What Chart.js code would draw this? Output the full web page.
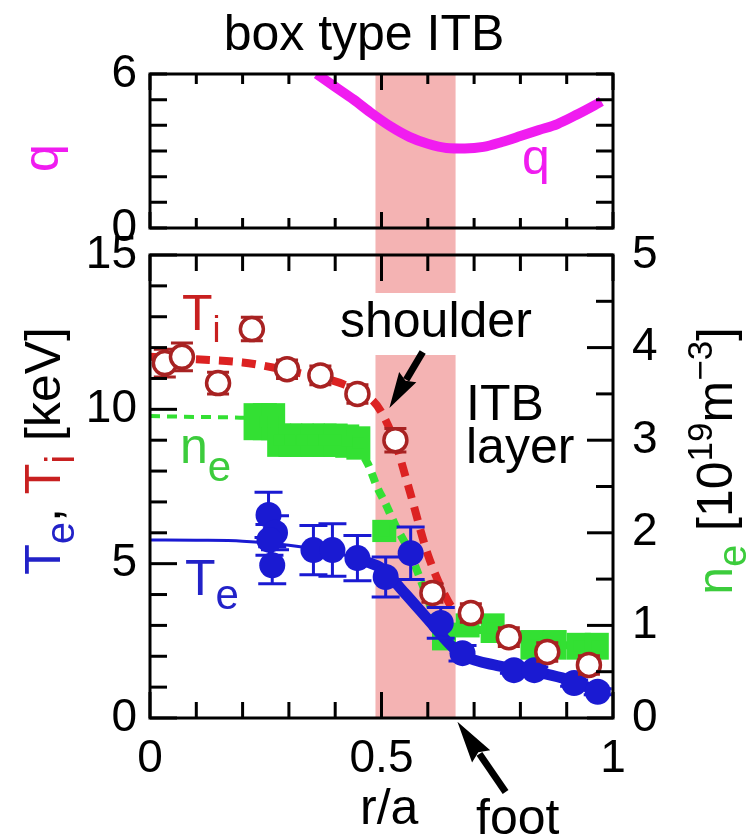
<!DOCTYPE html>
<html>
<head>
<meta charset="utf-8">
<title>box type ITB</title>
<script src="https://cdn.jsdelivr.net/npm/chart.js@4.4.1/dist/chart.umd.min.js"></script>
<style>
  html, body { margin:0; padding:0; background:#ffffff; }
  #wrap { position:relative; width:747px; height:840px; overflow:hidden; background:#fff; }
  #wrap canvas { position:absolute; left:0; top:0; }
</style>
</head>
<body>
<div id="wrap">
  <canvas id="cBottom" width="747" height="840"></canvas>
  <canvas id="cTop" width="747" height="840"></canvas>
</div>
<script>
// ---------------- data ----------------
// safety factor q(r/a)
const qR    = [0.36, 0.40, 0.44, 0.48, 0.52, 0.56, 0.60, 0.64, 0.68, 0.72, 0.76, 0.80, 0.84, 0.88, 0.92, 0.96, 0.975];
const qVal  = [6.0, 5.5, 5.0, 4.45, 3.95, 3.55, 3.28, 3.12, 3.1, 3.16, 3.35, 3.58, 3.82, 4.05, 4.4, 4.78, 4.93];

// ion temperature Ti [keV] (open circles) and its fit (dashed)
const tiR    = [0.032, 0.069, 0.147, 0.220, 0.296, 0.368, 0.448, 0.530, 0.610, 0.693, 0.775, 0.858, 0.948];
const tiVal  = [11.5, 11.7, 10.85, 12.6, 11.3, 11.1, 10.5, 9.0, 4.05, 3.4, 2.62, 2.14, 1.72];
const tiErr  = [0.45, 0.45, 0.35, 0.38, 0.3, 0.3, 0.3, 0.38, 0.3, 0.3, 0.3, 0.3, 0.3];
const tiFitR   = [0, 0.1, 0.2, 0.25, 0.33, 0.42, 0.48, 0.5, 0.53, 0.56, 0.6, 0.645, 0.66];
const tiFitVal = [11.7, 11.62, 11.52, 11.4, 11.15, 10.8, 10.3, 9.9, 8.9, 7.4, 5.3, 3.75, 3.45];

// electron temperature Te [keV] (filled circles) and its fit (solid)
const teR    = [0.256, 0.270, 0.258, 0.264, 0.353, 0.394, 0.448, 0.509, 0.563, 0.628, 0.675, 0.786, 0.830, 0.916, 0.967];
const teVal  = [6.58, 6.0, 5.77, 4.95, 5.44, 5.44, 5.18, 4.57, 5.34, 3.08, 2.1, 1.55, 1.55, 1.13, 0.85];
const teErr  = [0.73, 0.55, 0.5, 0.6, 0.8, 0.85, 0.73, 0.65, 0.85, 0.5, 0.25, 0.1, 0.1, 0.1, 0.1];
const teFitR   = [0, 0.1, 0.2, 0.3, 0.4, 0.47, 0.5, 0.55, 0.6, 0.65, 0.68, 0.75, 0.83, 0.89, 0.945, 0.975];
const teFitVal = [5.77, 5.76, 5.73, 5.6, 5.35, 5.05, 4.85, 4.05, 3.2, 2.35, 2.0, 1.7, 1.5, 1.3, 1.0, 0.8];

// electron density ne [10^19 m^-3] (squares with error boxes) and its fit (dashed)
const neR    = [0.228, 0.248, 0.266, 0.279, 0.303, 0.328, 0.352, 0.377, 0.401, 0.426, 0.450, 0.506, 0.635, 0.686, 0.740, 0.826, 0.874, 0.926, 0.965];
const neVal  = [3.2, 3.2, 3.2, 3.0, 3.0, 3.0, 3.0, 3.0, 3.0, 2.99, 2.97, 2.02, 0.88, 1.0, 0.97, 0.79, 0.79, 0.775, 0.775];
const neErr  = [0.2, 0.2, 0.2, 0.18, 0.18, 0.18, 0.18, 0.18, 0.18, 0.18, 0.18, 0.12, 0.15, 0.13, 0.16, 0.16, 0.16, 0.145, 0.145];
const neFitR   = [0, 0.12, 0.24, 0.35, 0.44, 0.47, 0.49, 0.51, 0.53, 0.56, 0.59, 0.62, 0.66, 0.75, 0.85, 0.97];
const neFitVal = [3.26, 3.25, 3.23, 3.05, 2.95, 2.75, 2.5, 2.3, 2.08, 1.8, 1.42, 1.05, 0.95, 0.95, 0.8, 0.78];

// ITB layer (shaded band), r/a
const itbBand = [0.487, 0.66];

// tick labels
const xTickVals   = [0, 0.5, 1];
const keVTickVals = [0, 5, 10, 15];
const neTickVals  = [0, 1, 2, 3, 4, 5];
const qTickVals   = [0, 6];

// annotation arrows in data units (r/a, keV)
const shoulderArrow = { from: [0.589, 11.86], to: [0.517, 10.04] };
const footArrow     = { from: [0.768, -2.4],  to: [0.664, -0.12] };

// ---------------- styling ----------------
const FONT = '"Liberation Sans", Arial, Helvetica, sans-serif';
const COL = {
  te: '#1a1ad2', teText: '#2222c8',
  ti: '#a82222', tiFit: '#dc2222', tiText: '#c82020',
  ne: '#33e033', neText: '#3ccc3c',
  q: '#f01cf0', pink: '#f4b3b3'
};
const TOP_AREA = { top: 74, bottom: 228 };
const BOT_AREA = { top: 255, bottom: 718 };
const LEFT_W = 150, RIGHT_W = 134, W = 747, H = 840;

const pts = (xs, ys) => xs.map((x, i) => ({ x: x, y: ys[i] }));
const fixedTicks = vals => s => { s.ticks = vals.map(v => ({ value: v })); };
const fmt = v => String(v);

function seg(t, c, size, dy) { return { t: t, c: c, size: size || 50, dy: dy || 0 }; }
function richText(ctx, segs, x, y, align, rot) {
  ctx.save();
  ctx.translate(x, y);
  if (rot) ctx.rotate(rot);
  ctx.textAlign = 'left';
  ctx.textBaseline = 'alphabetic';
  let total = 0;
  segs.forEach(s => { ctx.font = s.size + 'px ' + FONT; s.w = ctx.measureText(s.t).width; total += s.w; });
  let cx = align === 'right' ? -total : (align === 'center' ? -total / 2 : 0);
  segs.forEach(s => { ctx.font = s.size + 'px ' + FONT; ctx.fillStyle = s.c; ctx.fillText(s.t, cx, s.dy); cx += s.w; });
  ctx.restore();
}
function arrow(ctx, x0, y0, x1, y1, shaftW, headL, headW) {
  const ang = Math.atan2(y1 - y0, x1 - x0);
  const len = Math.hypot(x1 - x0, y1 - y0);
  ctx.save();
  ctx.translate(x0, y0);
  ctx.rotate(ang);
  ctx.fillStyle = '#000';
  ctx.fillRect(0, -shaftW / 2, len - headL + 3, shaftW);
  ctx.beginPath();
  ctx.moveTo(len, 0);
  ctx.lineTo(len - headL, -headW / 2);
  ctx.lineTo(len - headL * 0.88, 0);
  ctx.lineTo(len - headL, headW / 2);
  ctx.closePath();
  ctx.fill();
  ctx.restore();
}

// ---------------- plugins ----------------
const framePlugin = {
  id: 'frame',
  afterDraw(chart, args, opts) {
    const ctx = chart.ctx, a = chart.chartArea;
    ctx.save();
    ctx.strokeStyle = '#000';
    ctx.lineWidth = 3;
    ctx.lineCap = 'square';
    ctx.strokeRect(a.left, a.top, a.right - a.left, a.bottom - a.top);
    ctx.lineCap = 'butt';
    (opts.ticks || []).forEach(t => {
      const s = chart.scales[t.axis];
      const n = Math.round((s.max - s.min) / t.step);
      for (let k = 0; k <= n; k++) {
        const v = s.min + k * t.step;
        const r = v / t.major;
        const len = Math.abs(r - Math.round(r)) < 1e-6 ? t.majorLen : t.len;
        const p = s.getPixelForValue(v);
        ctx.beginPath();
        t.sides.forEach(side => {
          if (side === 'bottom') { ctx.moveTo(p, a.bottom); ctx.lineTo(p, a.bottom - len); }
          if (side === 'top')    { ctx.moveTo(p, a.top);    ctx.lineTo(p, a.top + len); }
          if (side === 'left')   { ctx.moveTo(a.left, p);   ctx.lineTo(a.left + len, p); }
          if (side === 'right')  { ctx.moveTo(a.right, p);  ctx.lineTo(a.right - len, p); }
        });
        ctx.stroke();
      }
    });
    ctx.restore();
  }
};

const errorBarPlugin = {
  id: 'errbars',
  beforeDatasetDraw(chart, args) {
    const ds = chart.data.datasets[args.index];
    if (!ds.errY) return;
    const meta = args.meta, ctx = chart.ctx;
    const ys = chart.scales[meta.yAxisID];
    ctx.save();
    meta.data.forEach((el, i) => {
      const v = ds.data[i].y, e = ds.errY[i];
      const yt = ys.getPixelForValue(v + e), yb = ys.getPixelForValue(v - e);
      const x = el.x;
      if (ds.errStyle === 'box') {
        ctx.fillStyle = ds.errColor;
        ctx.fillRect(x - ds.errHalfW, yt, 2 * ds.errHalfW, yb - yt);
      } else {
        ctx.strokeStyle = ds.errColor;
        ctx.lineWidth = ds.errWidth;
        ctx.beginPath();
        ctx.moveTo(x, yt); ctx.lineTo(x, yb);
        ctx.moveTo(x - ds.errCap, yt); ctx.lineTo(x + ds.errCap, yt);
        ctx.moveTo(x - ds.errCap, yb); ctx.lineTo(x + ds.errCap, yb);
        ctx.stroke();
      }
    });
    ctx.restore();
  }
};

const bandPlugin = {
  id: 'band',
  beforeDatasetsDraw(chart) {
    const ctx = chart.ctx, a = chart.chartArea, xs = chart.scales.x;
    const x0 = xs.getPixelForValue(itbBand[0]), x1 = xs.getPixelForValue(itbBand[1]);
    ctx.save();
    ctx.fillStyle = COL.pink;
    ctx.fillRect(x0, TOP_AREA.top, x1 - x0, a.bottom - TOP_AREA.top);
    // white backing behind the "shoulder" label
    ctx.fillStyle = '#ffffff';
    ctx.fillRect(335, 293, 210, 62);
    ctx.restore();
  }
};

const bottomLabels = {
  id: 'bottomLabels',
  afterDraw(chart) {
    const ctx = chart.ctx, xs = chart.scales.x, ys = chart.scales.y;
    // in-plot labels
    richText(ctx, [seg('T', COL.tiText), seg('i', COL.tiText, 36, 12)], 182, 330, 'left');
    richText(ctx, [seg('n', COL.neText), seg('e', COL.neText, 42, 18)], 180, 463, 'left');
    richText(ctx, [seg('T', COL.teText), seg('e', COL.teText, 42, 14)], 185, 595, 'left');
    richText(ctx, [seg('shoulder', '#000')], 340, 337, 'left');
    richText(ctx, [seg('ITB', '#000')], 466, 420, 'left');
    richText(ctx, [seg('layer', '#000')], 466, 463, 'left');
    richText(ctx, [seg('foot', '#000')], 476, 834, 'left');
    richText(ctx, [seg('r/a', '#000')], 360, 824, 'left');
    // axis titles
    richText(ctx, [
      seg('T', COL.teText), seg('e', COL.teText, 40, 14), seg(', ', '#000'),
      seg('T', COL.tiText), seg('i', COL.tiText, 40, 14), seg(' [keV]', '#000')
    ], 60, 327, 'right', -Math.PI / 2);
    richText(ctx, [
      seg('n', COL.neText), seg('e', COL.neText, 40, 14), seg(' [10', '#000'),
      seg('19', '#000', 35, -20), seg('m', '#000'), seg('\u22123', '#000', 35, -20), seg(']', '#000')
    ], 732, 327, 'right', -Math.PI / 2);
    // arrows
    const P = pair => [xs.getPixelForValue(pair[0]), ys.getPixelForValue(pair[1])];
    let f = P(shoulderArrow.from), t = P(shoulderArrow.to);
    arrow(ctx, f[0], f[1], t[0], t[1], 7, 36, 20);
    f = P(footArrow.from); t = P(footArrow.to);
    arrow(ctx, f[0], f[1], t[0], t[1], 7, 42, 22);
  }
};

const topLabels = {
  id: 'topLabels',
  afterDraw(chart) {
    const ctx = chart.ctx;
    richText(ctx, [seg('box type ITB', '#000')], 364, 50, 'center');
    richText(ctx, [seg('q', COL.q)], 522, 174, 'left');
    richText(ctx, [seg('q', COL.q)], 58, 158, 'center', -Math.PI / 2);
  }
};

// ---------------- bottom chart: Te, Ti, ne ----------------
const tickFont = { family: FONT, size: 46 };
new Chart(document.getElementById('cBottom'), {
  type: 'scatter',
  data: {
    datasets: [
      { label: 'Ti', data: pts(tiR, tiVal), yAxisID: 'y', showLine: false,
        errY: tiErr, errStyle: 'bar', errColor: COL.ti, errCap: 11, errWidth: 3,
        pointRadius: 11.5, pointBorderWidth: 3.5, pointBorderColor: COL.ti, pointBackgroundColor: '#ffffff' },
      { label: 'Te', data: pts(teR, teVal), yAxisID: 'y', showLine: false,
        errY: teErr, errStyle: 'bar', errColor: COL.te, errCap: 14, errWidth: 3,
        pointRadius: 13, pointBorderWidth: 0, pointBackgroundColor: COL.te },
      { label: 'Te fit', data: pts(teFitR, teFitVal), yAxisID: 'y', showLine: true,
        pointRadius: 0, borderColor: COL.te, borderWidth: 3, cubicInterpolationMode: 'monotone',
        borderJoinStyle: 'round', borderCapStyle: 'round',
        segment: { borderWidth: c => (c.p0.parsed.x >= 0.47 ? 11 : 3) } },
      { label: 'Ti fit', data: pts(tiFitR, tiFitVal), yAxisID: 'y', showLine: true,
        pointRadius: 0, borderColor: COL.tiFit, borderWidth: 8, borderDash: [14, 9],
        cubicInterpolationMode: 'monotone' },
      { label: 'ne', data: pts(neR, neVal), yAxisID: 'y2', showLine: false,
        errY: neErr, errStyle: 'box', errColor: COL.ne, errHalfW: 12,
        pointStyle: 'rect', pointRadius: 8, pointBorderWidth: 0, pointBackgroundColor: COL.ne },
      { label: 'ne fit', data: pts(neFitR, neFitVal), yAxisID: 'y2', showLine: true,
        pointRadius: 0, borderColor: COL.ne, borderWidth: 4, borderDash: [10, 7],
        cubicInterpolationMode: 'monotone',
        segment: { borderWidth: c => (c.p0.parsed.x >= 0.44 ? 8 : 4) } }
    ]
  },
  options: {
    responsive: false, animation: false, events: [],
    layout: { padding: { top: BOT_AREA.top, left: 0, right: 0, bottom: 0 } },
    plugins: { legend: { display: false }, tooltip: { enabled: false },
      frame: { ticks: [
        { axis: 'x', step: 0.1, major: 0.5, len: 16, majorLen: 26, sides: ['bottom', 'top'] },
        { axis: 'y', step: 1, major: 5, len: 17, majorLen: 27, sides: ['left'] },
        { axis: 'y2', step: 0.5, major: 1, len: 17, majorLen: 26, sides: ['right'] }
      ] } },
    scales: {
      x: { type: 'linear', position: 'bottom', min: 0, max: 1,
        grid: { display: false, drawTicks: false }, border: { display: false },
        ticks: { font: tickFont, color: '#000', padding: 14, autoSkip: false, maxRotation: 0, callback: fmt },
        afterBuildTicks: fixedTicks(xTickVals),
        afterFit: s => { s.height = H - BOT_AREA.bottom; } },
      y: { type: 'linear', position: 'left', min: 0, max: 15,
        grid: { display: false, drawTicks: false }, border: { display: false },
        ticks: { font: tickFont, color: '#000', padding: 13, autoSkip: false, callback: fmt },
        afterBuildTicks: fixedTicks(keVTickVals),
        afterFit: s => { s.width = LEFT_W; } },
      y2: { type: 'linear', position: 'right', min: 0, max: 5,
        grid: { display: false, drawTicks: false }, border: { display: false },
        ticks: { font: tickFont, color: '#000', padding: 19, autoSkip: false, callback: fmt },
        afterBuildTicks: fixedTicks(neTickVals),
        afterFit: s => { s.width = RIGHT_W; } }
    }
  },
  plugins: [bandPlugin, errorBarPlugin, framePlugin, bottomLabels]
});

// ---------------- top chart: q ----------------
new Chart(document.getElementById('cTop'), {
  type: 'scatter',
  data: {
    datasets: [
      { label: 'q', data: pts(qR, qVal), showLine: true, pointRadius: 0,
        borderColor: COL.q, borderWidth: 10, cubicInterpolationMode: 'monotone' }
    ]
  },
  options: {
    responsive: false, animation: false, events: [],
    layout: { padding: { top: TOP_AREA.top, left: 0, right: RIGHT_W, bottom: H - TOP_AREA.bottom } },
    plugins: { legend: { display: false }, tooltip: { enabled: false },
      frame: { ticks: [
        { axis: 'x', step: 0.1, major: 0.5, len: 10, majorLen: 16, sides: ['bottom', 'top'] },
        { axis: 'y', step: 1, major: 6, len: 17, majorLen: 17, sides: ['left', 'right'] }
      ] } },
    scales: {
      x: { type: 'linear', display: false, min: 0, max: 1 },
      y: { type: 'linear', position: 'left', min: 0, max: 6,
        grid: { display: false, drawTicks: false }, border: { display: false },
        ticks: { font: tickFont, color: '#000', padding: 13, autoSkip: false, callback: fmt },
        afterBuildTicks: fixedTicks(qTickVals),
        afterFit: s => { s.width = LEFT_W; } }
    }
  },
  plugins: [framePlugin, topLabels]
});
</script>
</body>
</html>
